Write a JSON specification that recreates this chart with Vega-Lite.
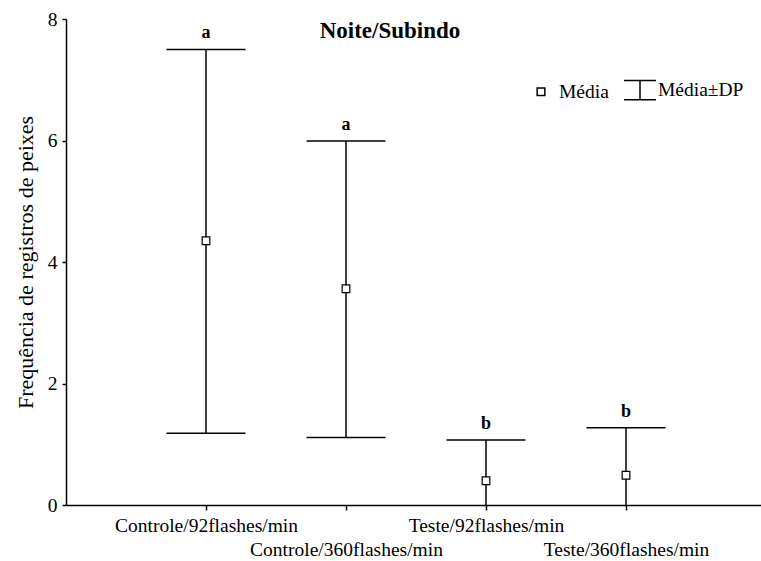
{
  "$schema": "https://vega.github.io/schema/vega-lite/v6.json",
  "width": 700,
  "height": 486,
  "padding": {"left": 14, "top": 9, "right": 0, "bottom": 5},
  "background": "white",
  "config": {
    "view": {"stroke": null},
    "font": "Liberation Serif",
    "axis": {"labelFont": "Liberation Serif", "titleFont": "Liberation Serif", "labelColor": "black", "titleColor": "black", "domainColor": "black", "tickColor": "black", "grid": false, "domainWidth": 1.5, "tickWidth": 1.5}
  },
  "title": {"text": "Noite/Subindo", "font": "Liberation Serif", "fontSize": 23, "fontWeight": "bold", "color": "black", "anchor": "middle", "offset": -34, "dx": -26},
  "data": {"values": [
    {"grupo": "Controle/92flashes/min", "media": 4.35, "sup": 7.50, "inf": 1.18, "letra": "a"},
    {"grupo": "Controle/360flashes/min", "media": 3.56, "sup": 5.99, "inf": 1.11, "letra": "a"},
    {"grupo": "Teste/92flashes/min", "media": 0.40, "sup": 1.07, "inf": 0, "letra": "b"},
    {"grupo": "Teste/360flashes/min", "media": 0.49, "sup": 1.27, "inf": 0, "letra": "b"}
  ]},
  "encoding": {
    "x": {"field": "grupo", "type": "nominal", "sort": null,
      "scale": {"type": "point", "padding": 1},
      "axis": {"title": null, "labelAngle": 0, "labelFontSize": 19.5, "labelLineHeight": 24, "labelPadding": 6, "tickSize": 5, "labelOverlap": false, "labelBound": false, "labelLimit": 0,
        "labelExpr": "indexof(datum.value, '360') >= 0 ? ['', datum.label] : datum.label"}}
  },
  "layer": [
    {
      "mark": {"type": "rule", "color": "black", "strokeWidth": 1.5},
      "encoding": {
        "y": {"field": "inf", "type": "quantitative",
          "scale": {"domain": [0, 8], "nice": false, "zero": true},
          "axis": {"title": "Frequência de registros de peixes", "values": [0, 2, 4, 6, 8], "format": "d", "labelFontSize": 19.5, "titleFontSize": 22, "titleFontWeight": "normal", "tickSize": 4, "labelPadding": 5, "titlePadding": 10}},
        "y2": {"field": "sup"}
      }
    },
    {
      "mark": {"type": "tick", "orient": "horizontal", "color": "black", "size": 79, "thickness": 1.5, "opacity": 1},
      "encoding": {"y": {"field": "sup", "type": "quantitative"}}
    },
    {
      "transform": [{"filter": "datum.inf > 0"}],
      "mark": {"type": "tick", "orient": "horizontal", "color": "black", "size": 79, "thickness": 1.5, "opacity": 1},
      "encoding": {"y": {"field": "inf", "type": "quantitative"}}
    },
    {
      "mark": {"type": "point", "filled": true, "fill": "white", "stroke": "black", "strokeWidth": 1.2, "size": 1024, "opacity": 1},
      "encoding": {
        "y": {"field": "media", "type": "quantitative"},
        "shape": {"datum": "Média", "type": "nominal",
          "scale": {"domain": ["Média", "Média±DP"], "range": ["M-0.24,-0.24H0.24V0.24H-0.24Z", "M-1,-0.6H1M0,-0.6V0.6M-1,0.6H1"]},
          "legend": {"title": null, "orient": "none", "legendX": 458, "legendY": 54, "direction": "horizontal", "symbolSize": 1024, "labelFont": "Liberation Serif", "labelFontSize": 19.5, "labelColor": "black", "labelOffset": 1, "columnPadding": 12, "padding": 0,
            "encode": {"symbols": {"update": {"fill": {"value": "white"}, "stroke": {"value": "black"}, "strokeWidth": {"value": 1.5}, "opacity": {"value": 1}}}}}}
      }
    },
    {
      "mark": {"type": "text", "fontWeight": "bold", "fontSize": 18, "font": "Liberation Serif", "color": "black", "baseline": "bottom", "dy": -7},
      "encoding": {"y": {"field": "sup", "type": "quantitative"}, "text": {"field": "letra"}}
    }
  ]
}
